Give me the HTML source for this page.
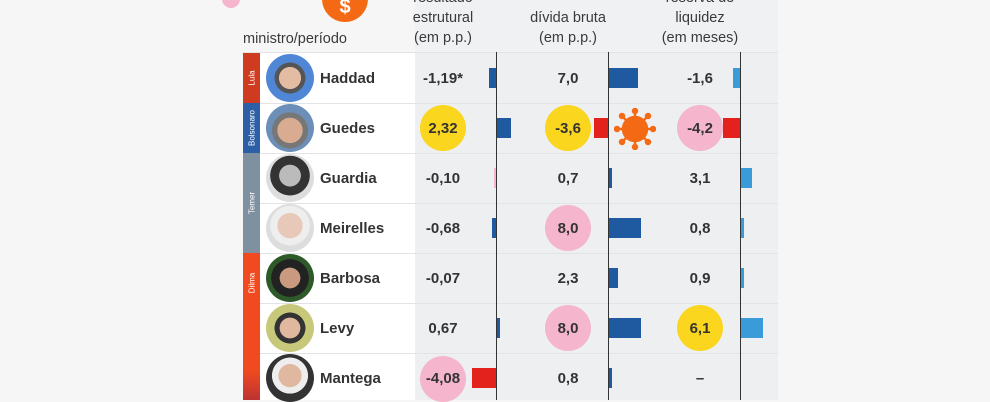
<!DOCTYPE html>
<html><head><meta charset="utf-8"><style>
*{margin:0;padding:0;box-sizing:border-box}
body{width:990px;height:400px;overflow:hidden;background:#f6f6f7;font-family:"Liberation Sans",sans-serif;color:#333;position:relative}
.a{position:absolute}
.h{position:absolute;text-align:center;font-size:14.5px;line-height:20px;color:#3a3a3a;width:140px}
.v{position:absolute;width:60px;text-align:center;font-weight:bold;font-size:15px;line-height:20px;color:#333}
.c{position:absolute;width:46px;height:46px;border-radius:50%}
.n{position:absolute;left:320px;font-weight:bold;font-size:15px;color:#333;line-height:20px}
.p{position:absolute;left:266px;width:48px;height:48px;border-radius:50%}
.bar{position:absolute;height:20px}
.line{position:absolute;left:243px;width:535px;height:1px;background:#e2e3e6}
.strip{position:absolute;left:243px;width:17px;color:#fff;font-size:8px}
.strip span{position:absolute;left:50%;top:50%;transform:translate(-50%,-50%) rotate(-90deg);white-space:nowrap}
</style></head><body>
<div class="a" style="left:260px;top:52px;width:155px;height:348px;background:#fff"></div>
<div class="a" style="left:415px;top:52px;width:363px;height:348px;background:#eeeff1"></div>
<div class="a" style="left:415px;top:0;width:363px;height:52px;background:#f0f1f3"></div>
<div class="a" style="left:222px;top:-10px;width:18px;height:18px;border-radius:50%;background:#f5b5cc"></div>
<div class="a" style="left:322px;top:-24px;width:46px;height:46px;border-radius:50%;background:#f46a14;color:#fff;font-weight:bold;font-size:20px;text-align:center;line-height:62px">$</div>
<div class="a" style="left:243px;top:31px;font-size:14.5px;color:#3a3a3a">ministro/período</div>
<div class="h" style="left:373px;top:-12px">resultado<br>estrutural<br>(em p.p.)</div>
<div class="h" style="left:498px;top:8px">dívida bruta<br>(em p.p.)</div>
<div class="h" style="left:630px;top:-12px">reserva de<br>liquidez<br>(em meses)</div>
<div class="line" style="top:52px"></div><div class="line" style="top:103px"></div><div class="line" style="top:153px"></div><div class="line" style="top:203px"></div><div class="line" style="top:253px"></div><div class="line" style="top:303px"></div><div class="line" style="top:353px"></div>
<div class="a" style="left:496px;top:52px;width:1px;height:348px;background:#333"></div>
<div class="a" style="left:608px;top:52px;width:1px;height:348px;background:#333"></div>
<div class="a" style="left:740px;top:52px;width:1px;height:348px;background:#333"></div>
<div class="strip" style="top:53px;height:50px;background:#cf3b1f"><span>Lula</span></div>
<div class="strip" style="top:103px;height:50px;background:#2d5fa6"><span>Bolsonaro</span></div>
<div class="strip" style="top:153px;height:100px;background:#7f90a0"><span>Temer</span></div>
<div class="strip" style="top:253px;height:147px;background:linear-gradient(#f24a20,#f04a20 80%,#b33)"><span style="top:30px">Dilma</span></div>
<div class="p" style="top:54px;background:radial-gradient(circle at 50% 50%,#e4bca3 0 32%,#555 33% 45%,#4f86d6 46%)"></div>
<div class="p" style="top:104px;background:radial-gradient(circle at 50% 55%,#d9ab90 0 35%,#777 36% 50%,#6b8fb8 51%)"></div>
<div class="p" style="top:154px;background:radial-gradient(circle at 50% 45%,#bbb 0 30%,#333 31% 55%,#ddd 56%)"></div>
<div class="p" style="top:204px;background:radial-gradient(circle at 50% 45%,#e8c8b8 0 35%,#eee 36% 55%,#ddd 56%)"></div>
<div class="p" style="top:254px;background:radial-gradient(circle at 50% 50%,#c99a80 0 30%,#222 31% 55%,#2e5a2a 56%)"></div>
<div class="p" style="top:304px;background:radial-gradient(circle at 50% 50%,#e0b8a0 0 30%,#333 31% 45%,#c8c87a 46%)"></div>
<div class="p" style="top:354px;background:radial-gradient(circle at 50% 45%,#e0b8a0 0 32%,#eee 33% 50%,#333 51%)"></div>
<div class="n" style="top:69px">Haddad</div><div class="n" style="top:119px">Guedes</div><div class="n" style="top:169px">Guardia</div><div class="n" style="top:219px">Meirelles</div><div class="n" style="top:269px">Barbosa</div><div class="n" style="top:319px">Levy</div><div class="n" style="top:369px">Mantega</div>
<div class="c" style="left:420px;top:105px;background:#fad61e"></div>
<div class="c" style="left:420px;top:356px;background:#f5b5cc"></div>
<div class="c" style="left:545px;top:105px;background:#fad61e"></div>
<div class="c" style="left:545px;top:205px;background:#f5b5cc"></div>
<div class="c" style="left:545px;top:305px;background:#f5b5cc"></div>
<div class="c" style="left:677px;top:105px;background:#f5b5cc"></div>
<div class="c" style="left:677px;top:305px;background:#fad61e"></div>
<svg class="a" style="left:614px;top:108px" width="42" height="42" viewBox="-21 -21 42 42"><g stroke="#f46a14" stroke-width="2.5" fill="#f46a14"><circle r="12"/><g><line x1="0" y1="-12" x2="0" y2="-18"/><line x1="0" y1="12" x2="0" y2="18"/><line x1="-12" y1="0" x2="-18" y2="0"/><line x1="12" y1="0" x2="18" y2="0"/><line x1="8.5" y1="8.5" x2="13" y2="13"/><line x1="-8.5" y1="8.5" x2="-13" y2="13"/><line x1="8.5" y1="-8.5" x2="13" y2="-13"/><line x1="-8.5" y1="-8.5" x2="-13" y2="-13"/></g><circle cx="0" cy="-18" r="2"/><circle cx="0" cy="18" r="2"/><circle cx="-18" cy="0" r="2"/><circle cx="18" cy="0" r="2"/><circle cx="13" cy="13" r="2"/><circle cx="-13" cy="13" r="2"/><circle cx="13" cy="-13" r="2"/><circle cx="-13" cy="-13" r="2"/></g></svg>
<div class="v" style="left:413px;top:69px">-1,19*</div><div class="v" style="left:413px;top:119px">2,32</div><div class="v" style="left:413px;top:169px">-0,10</div><div class="v" style="left:413px;top:219px">-0,68</div><div class="v" style="left:413px;top:269px">-0,07</div><div class="v" style="left:413px;top:319px">0,67</div><div class="v" style="left:413px;top:369px">-4,08</div>
<div class="v" style="left:538px;top:69px">7,0</div><div class="v" style="left:538px;top:119px">-3,6</div><div class="v" style="left:538px;top:169px">0,7</div><div class="v" style="left:538px;top:219px">8,0</div><div class="v" style="left:538px;top:269px">2,3</div><div class="v" style="left:538px;top:319px">8,0</div><div class="v" style="left:538px;top:369px">0,8</div>
<div class="v" style="left:670px;top:69px">-1,6</div><div class="v" style="left:670px;top:119px">-4,2</div><div class="v" style="left:670px;top:169px">3,1</div><div class="v" style="left:670px;top:219px">0,8</div><div class="v" style="left:670px;top:269px">0,9</div><div class="v" style="left:670px;top:319px">6,1</div><div class="v" style="left:670px;top:369px">–</div>
<div class="bar" style="left:489px;top:68px;width:7px;background:#1f5aa0"></div>
<div class="bar" style="left:497px;top:118px;width:14px;background:#1f5aa0"></div>
<div class="bar" style="left:494px;top:168px;width:2px;background:#f5b5cc"></div>
<div class="bar" style="left:492px;top:218px;width:4px;background:#1f5aa0"></div>
<div class="bar" style="left:497px;top:318px;width:3px;background:#1f5aa0"></div>
<div class="bar" style="left:472px;top:368px;width:24px;background:#e3211d"></div>
<div class="bar" style="left:609px;top:68px;width:29px;background:#1f5aa0"></div>
<div class="bar" style="left:594px;top:118px;width:14px;background:#e3211d"></div>
<div class="bar" style="left:609px;top:168px;width:3px;background:#1f5aa0"></div>
<div class="bar" style="left:609px;top:218px;width:32px;background:#1f5aa0"></div>
<div class="bar" style="left:609px;top:268px;width:9px;background:#1f5aa0"></div>
<div class="bar" style="left:609px;top:318px;width:32px;background:#1f5aa0"></div>
<div class="bar" style="left:609px;top:368px;width:3px;background:#1f5aa0"></div>
<div class="bar" style="left:733px;top:68px;width:7px;background:#3a9bd9"></div>
<div class="bar" style="left:723px;top:118px;width:17px;background:#e3211d"></div>
<div class="bar" style="left:741px;top:168px;width:11px;background:#3a9bd9"></div>
<div class="bar" style="left:741px;top:218px;width:3px;background:#3a9bd9"></div>
<div class="bar" style="left:741px;top:268px;width:3px;background:#3a9bd9"></div>
<div class="bar" style="left:741px;top:318px;width:22px;background:#3a9bd9"></div>
</body></html>
